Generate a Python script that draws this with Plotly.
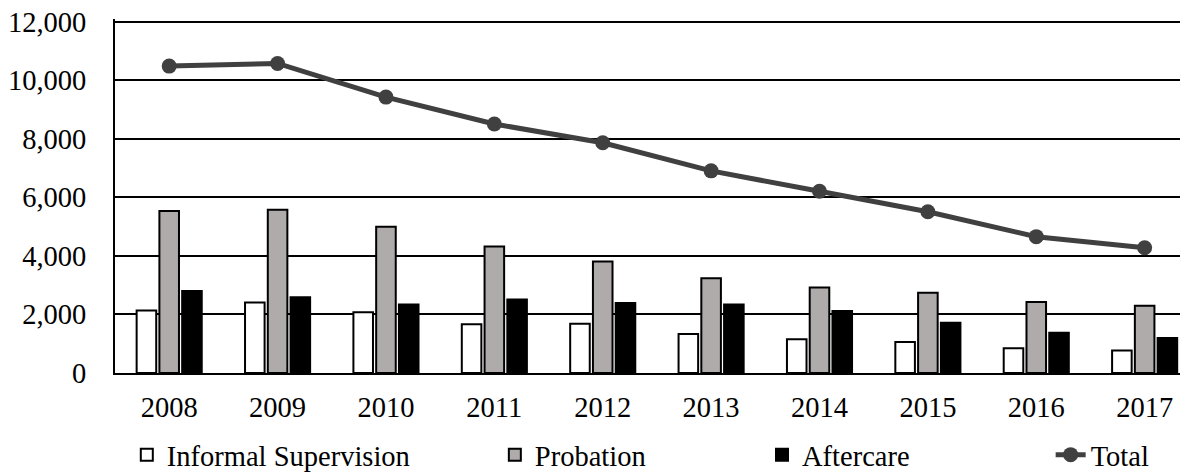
import plotly.graph_objects as go

years = ["2008", "2009", "2010", "2011", "2012", "2013", "2014", "2015", "2016", "2017"]
informal = [2140, 2410, 2080, 1670, 1680, 1330, 1150, 1060, 850, 770]
probation = [5540, 5580, 5000, 4320, 3810, 3240, 2920, 2740, 2430, 2300]
aftercare = [2800, 2590, 2340, 2510, 2390, 2340, 2120, 1720, 1380, 1200]
total = [10490, 10580, 9430, 8510, 7870, 6910, 6210, 5510, 4660, 4280]
y_ticks = [0, 2000, 4000, 6000, 8000, 10000, 12000]

FONT = "'Liberation Serif', 'Times New Roman', Times, serif"
FS = 28.5

fig = go.Figure()
fig.add_trace(go.Bar(x=years, y=informal, name="Informal Supervision",
                     marker=dict(color="white", line=dict(color="black", width=2)),
                     legend="legend"))
fig.add_trace(go.Bar(x=years, y=probation, name="Probation",
                     marker=dict(color="#AFABAB", line=dict(color="black", width=2)),
                     legend="legend2"))
fig.add_trace(go.Bar(x=years, y=aftercare, name="Aftercare",
                     marker=dict(color="black", line=dict(color="black", width=2)),
                     legend="legend3"))
fig.add_trace(go.Scatter(x=years, y=total, name="Total", mode="lines+markers",
                         line=dict(color="#404040", width=5),
                         marker=dict(color="#404040", size=15),
                         legend="legend4"))

leg_common = dict(orientation="h", yanchor="middle", y=-0.232, xanchor="left",
                  font=dict(family=FONT, size=FS, color="black"),
                  bgcolor="rgba(0,0,0,0)", borderwidth=0, itemwidth=30,
                  tracegroupgap=0)

# page body has an 8px margin, so the figure is 8px smaller and margins shifted
fig.update_layout(
    width=1180, height=464,
    margin=dict(l=107, r=0, t=11, b=99, autoexpand=False),
    paper_bgcolor="white", plot_bgcolor="white",
    font=dict(family=FONT, size=FS, color="black"),
    barmode="group", bargap=0.37, bargroupgap=0.14,
    showlegend=True,
    legend=dict(x=0.011, **leg_common),
    legend2=dict(x=0.354, **leg_common),
    legend3=dict(x=0.603, **leg_common),
    legend4=dict(x=0.872, **leg_common),
    xaxis=dict(type="category", range=[-0.5, 9.4], showgrid=False, automargin=False,
               showline=True, linecolor="black", linewidth=2,
               ticks="", ticklabelstandoff=8,
               tickfont=dict(family=FONT, size=FS, color="black")),
    yaxis=dict(range=[0, 12100], tickvals=y_ticks,
               tickformat=",", automargin=False, ticklabeloverflow="allow",
               showgrid=True, gridcolor="black", gridwidth=1.5,
               showline=True, linecolor="black", linewidth=2,
               zeroline=False, ticks="", ticklabelstandoff=21,
               tickfont=dict(family=FONT, size=FS, color="black")),
)

fig.write_html("out.html")
